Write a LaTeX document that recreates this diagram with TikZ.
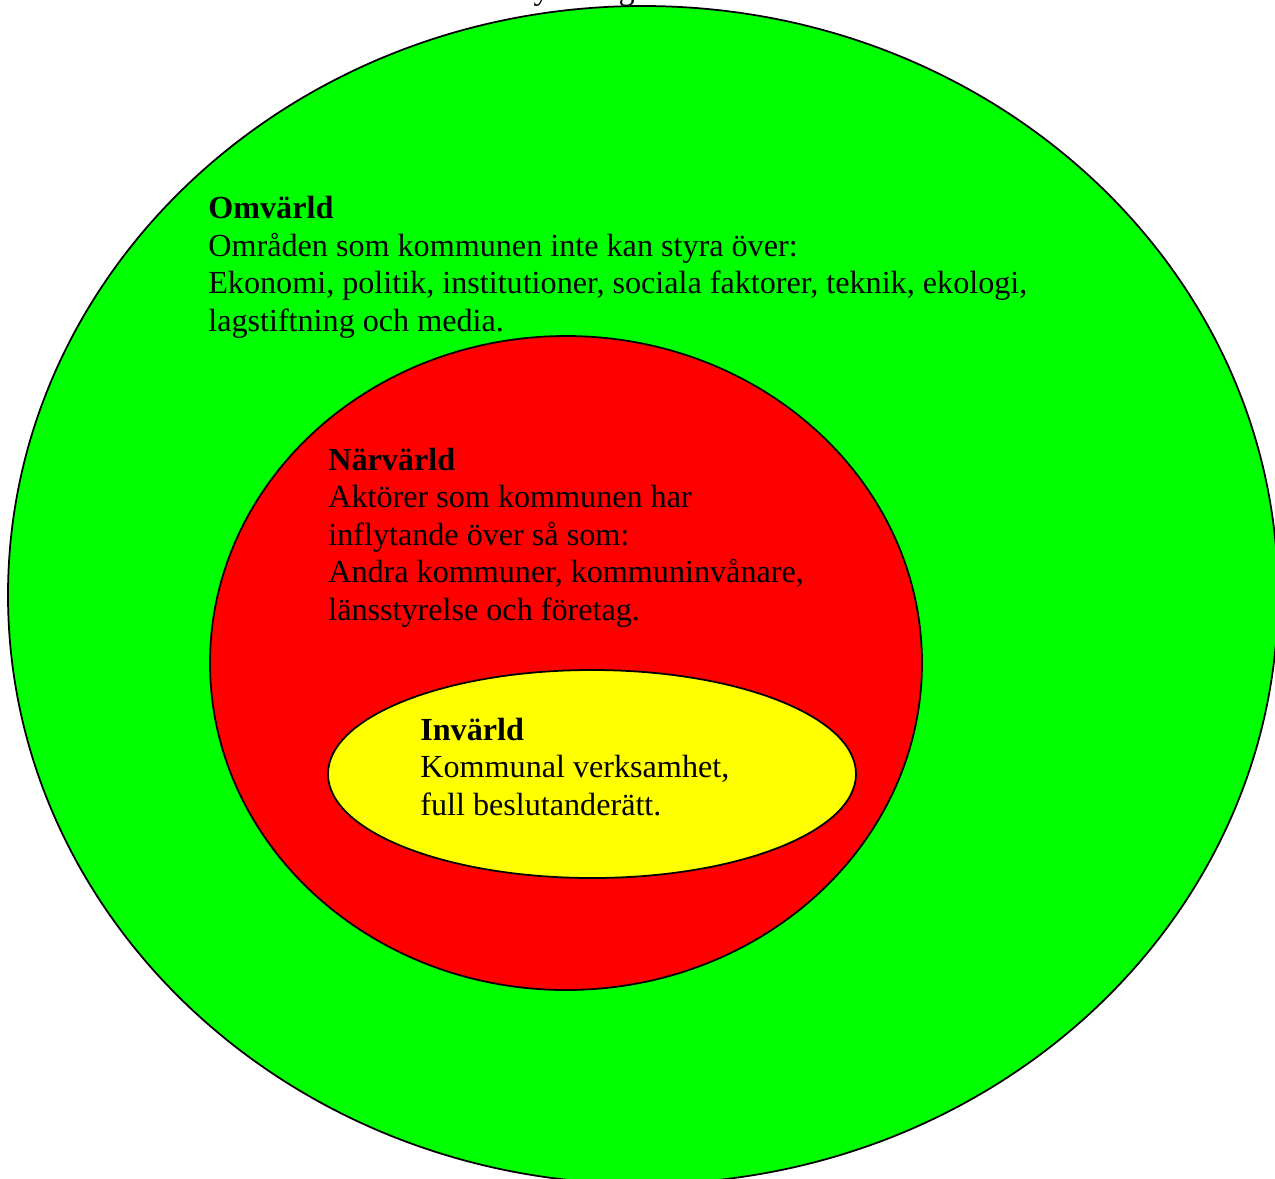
\documentclass[tikz,border=0pt]{standalone}
\usepackage{fontspec}
\setmainfont{Liberation Serif}
\begin{document}
\begin{tikzpicture}[x=0.02cm,y=-0.02cm,
  ring/.style={draw=black,line width=1pt},
  label/.style={anchor=base west,inner sep=0pt,align=left,font=\fontsize{18.3}{21.3}\selectfont}]
\useasboundingbox (0,0) rectangle (1275,1178);
\begin{scope}
\clip (0,0) rectangle (1275,1178);
\node[label] (title) at (194,-1) {Modell över omvärldsanalys enligt kurslitteraturen.};
\filldraw[ring,fill={rgb,255:red,0;green,255;blue,0}] (643,595) ellipse [x radius=635,y radius=589];
\filldraw[ring,fill={rgb,255:red,255;green,0;blue,0}] (566,663) ellipse [x radius=356,y radius=327];
\filldraw[ring,fill={rgb,255:red,255;green,255;blue,0}] (592,774) ellipse [x radius=264,y radius=104];
\end{scope}
\node[label] (omv) at (208,331) {\textbf{Omvärld}\\Områden som kommunen inte kan styra över:\\Ekonomi, politik, institutioner, sociala faktorer, teknik, ekologi,\\lagstiftning och media.};
\node[label] (nar) at (328,620) {\textbf{Närvärld}\\Aktörer som kommunen har\\inflytande över så som:\\Andra kommuner, kommuninvånare,\\länsstyrelse och företag.};
\node[label] (inv) at (420,815) {\textbf{Invärld}\\Kommunal verksamhet,\\full beslutanderätt.};
\end{tikzpicture}
\end{document}
